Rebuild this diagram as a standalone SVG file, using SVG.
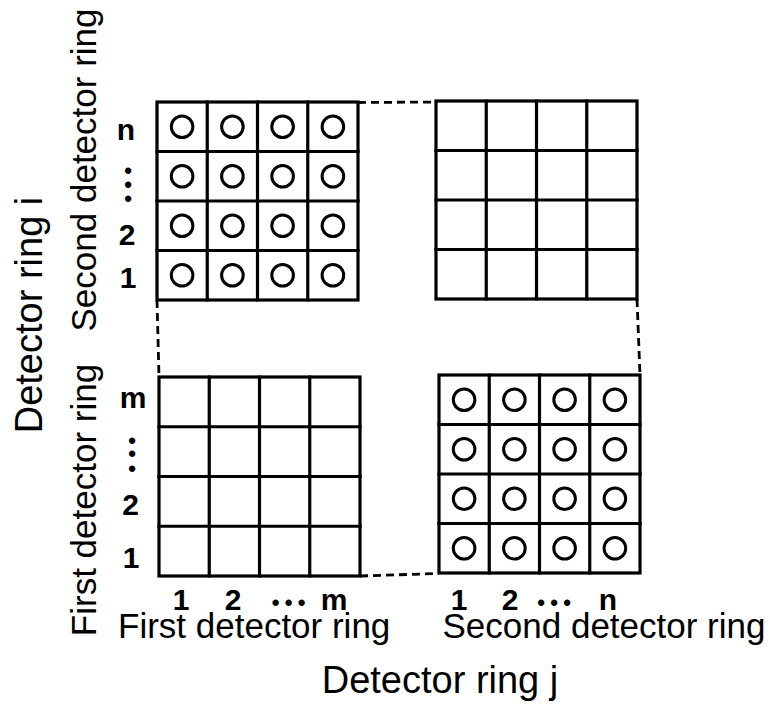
<svg xmlns="http://www.w3.org/2000/svg" width="770" height="706" viewBox="0 0 770 706">
<style>
.grid{fill:none;stroke:#000;stroke-width:3.2;stroke-linecap:square}
.det{fill:none;stroke:#000;stroke-width:3}
.dash{fill:none;stroke:#000;stroke-width:2.8;stroke-dasharray:8 5}
.lbl{font-family:"Liberation Sans",Arial,sans-serif;font-size:35px;fill:#000}
.axis{font-family:"Liberation Sans",Arial,sans-serif;font-size:38px;fill:#000;text-anchor:middle}
.num{font-family:"Liberation Sans",Arial,sans-serif;font-weight:bold;font-size:30px;fill:#000;text-anchor:middle}
.dot{font-family:"Liberation Sans",Arial,sans-serif;font-weight:bold;font-size:22px;fill:#000;text-anchor:middle}
</style>
<rect width="770" height="706" fill="#fff"/>

<g id="connectors">
<path class="dash" d="M358,102.5 L436,102"/>
<path class="dash" d="M360,576 L439,573.5"/>
<path class="dash" d="M157,300 L159,377"/>
<path class="dash" d="M637,299 L640,375"/>
</g>

<g id="grid-second-first">
<rect class="grid" x="157" y="102" width="201" height="198"/>
<path class="grid" d="M207.25,102V300M257.5,102V300M307.75,102V300M157,151.5H358M157,201H358M157,250.5H358"/>
<g class="det">
<circle cx="182.1" cy="126.75" r="10.8"/><circle cx="232.4" cy="126.75" r="10.8"/><circle cx="282.6" cy="126.75" r="10.8"/><circle cx="332.9" cy="126.75" r="10.8"/>
<circle cx="182.1" cy="176.25" r="10.8"/><circle cx="232.4" cy="176.25" r="10.8"/><circle cx="282.6" cy="176.25" r="10.8"/><circle cx="332.9" cy="176.25" r="10.8"/>
<circle cx="182.1" cy="225.75" r="10.8"/><circle cx="232.4" cy="225.75" r="10.8"/><circle cx="282.6" cy="225.75" r="10.8"/><circle cx="332.9" cy="225.75" r="10.8"/>
<circle cx="182.1" cy="275.25" r="10.8"/><circle cx="232.4" cy="275.25" r="10.8"/><circle cx="282.6" cy="275.25" r="10.8"/><circle cx="332.9" cy="275.25" r="10.8"/>
</g>
</g>

<g id="grid-second-second">
<rect class="grid" x="436" y="101" width="201" height="198"/>
<path class="grid" d="M486.25,101V299M536.5,101V299M586.75,101V299M436,150.5H637M436,200H637M436,249.5H637"/>
</g>

<g id="grid-first-first">
<rect class="grid" x="159" y="377" width="201" height="199"/>
<path class="grid" d="M209.25,377V576M259.5,377V576M309.75,377V576M159,426.75H360M159,476.5H360M159,526.25H360"/>
</g>

<g id="grid-first-second">
<rect class="grid" x="439" y="375" width="201" height="198"/>
<path class="grid" d="M489.25,375V573M539.5,375V573M589.75,375V573M439,424.5H640M439,474H640M439,523.5H640"/>
<g class="det">
<circle cx="464.1" cy="399.75" r="10.8"/><circle cx="514.4" cy="399.75" r="10.8"/><circle cx="564.6" cy="399.75" r="10.8"/><circle cx="614.9" cy="399.75" r="10.8"/>
<circle cx="464.1" cy="449.25" r="10.8"/><circle cx="514.4" cy="449.25" r="10.8"/><circle cx="564.6" cy="449.25" r="10.8"/><circle cx="614.9" cy="449.25" r="10.8"/>
<circle cx="464.1" cy="498.75" r="10.8"/><circle cx="514.4" cy="498.75" r="10.8"/><circle cx="564.6" cy="498.75" r="10.8"/><circle cx="614.9" cy="498.75" r="10.8"/>
<circle cx="464.1" cy="548.25" r="10.8"/><circle cx="514.4" cy="548.25" r="10.8"/><circle cx="564.6" cy="548.25" r="10.8"/><circle cx="614.9" cy="548.25" r="10.8"/>
</g>
</g>

<g id="row-labels-second">
<text class="num" x="126" y="140">n</text>
<text class="dot" x="128 128 128" y="178 192 206">•••</text>
<text class="num" x="127" y="245">2</text>
<text class="num" x="128" y="288">1</text>
</g>

<g id="row-labels-first">
<text class="num" x="133" y="408">m</text>
<text class="dot" x="132 132 132" y="448 461 476">•••</text>
<text class="num" x="130.5" y="515">2</text>
<text class="num" x="131" y="568">1</text>
</g>

<g id="col-labels-first">
<text class="num" x="181" y="610">1</text>
<text class="num" x="233" y="610">2</text>
<text class="dot" x="275.5 288.5 301.5" y="610 610 610">•••</text>
<text class="num" x="334" y="610">m</text>
</g>

<g id="col-labels-second">
<text class="num" x="459" y="610">1</text>
<text class="num" x="510" y="610">2</text>
<text class="dot" x="541 554 567" y="610 610 610">•••</text>
<text class="num" x="608" y="610">n</text>
</g>

<g id="axis-labels">
<text class="lbl" x="118" y="638">First detector ring</text>
<text class="lbl" x="604" y="638" text-anchor="middle">Second detector ring</text>
<text class="axis" x="440" y="693">Detector ring j</text>
<text class="lbl" transform="translate(96,170) rotate(-90)" text-anchor="middle">Second detector ring</text>
<text class="lbl" transform="translate(96,500) rotate(-90)" text-anchor="middle">First detector ring</text>
<text class="axis" transform="translate(42,315) rotate(-90)">Detector ring i</text>
</g>
</svg>
